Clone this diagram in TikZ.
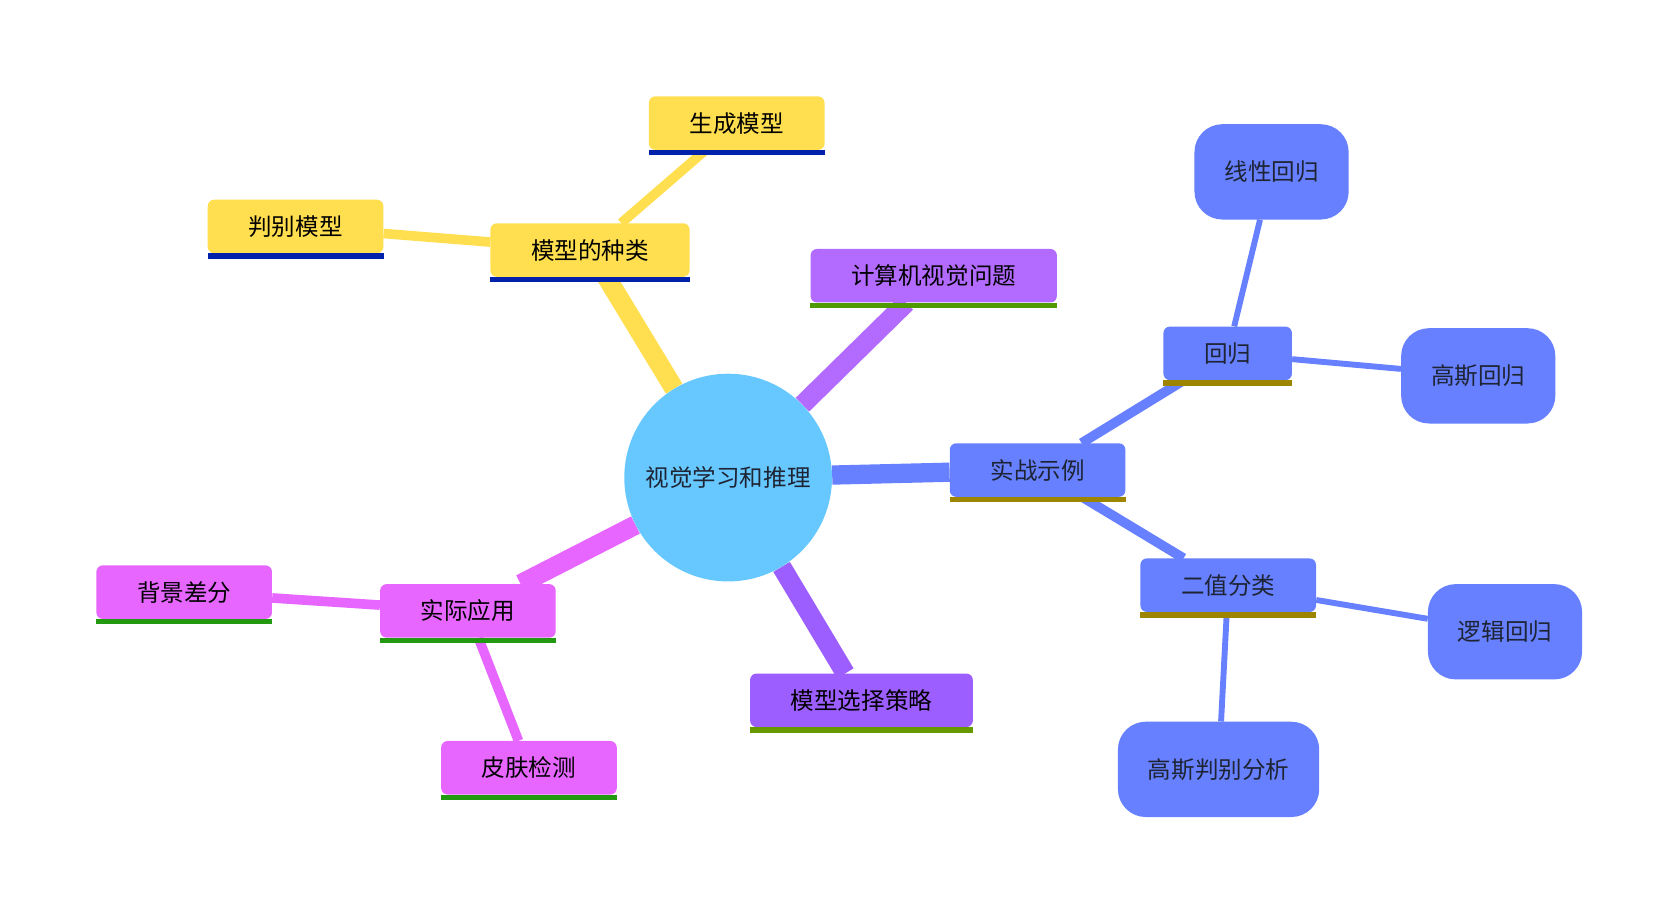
\documentclass[tikz,border=0pt]{standalone}
\usepackage{fontspec}
\setmainfont{Noto Sans CJK SC}
\usetikzlibrary{backgrounds}

\definecolor{rootblue}{HTML}{66C8FF}
\definecolor{kindyellow}{HTML}{FFDF4F}
\definecolor{kindbar}{HTML}{0022AA}
\definecolor{cvpurple}{HTML}{B36BFF}
\definecolor{cvbar}{HTML}{4F9A00}
\definecolor{stratpurple}{HTML}{9D5EFF}
\definecolor{stratbar}{HTML}{669900}
\definecolor{appmagenta}{HTML}{E666FF}
\definecolor{appbar}{HTML}{229911}
\definecolor{caseblue}{HTML}{6680FF}
\definecolor{casebar}{HTML}{9E8500}
\definecolor{darkink}{HTML}{1E2433}

\begin{document}
\begin{tikzpicture}[
  x=1pt,y=-1pt,
  root/.style={circle,minimum size=194pt,inner sep=0pt,fill=rootblue,text=darkink},
  topic/.style={rounded corners=6pt,minimum height=50pt,inner xsep=38pt,inner ysep=0pt},
  leaf/.style={rounded corners=26pt,minimum height=89pt,inner xsep=28pt,inner ysep=0pt,fill=caseblue,text=darkink},
  trunk/.style={line width=18pt},
  twig/.style={line width=9pt},
  sprig/.style={line width=5.5pt},
  every node/.style={font=\fontsize{22}{26}\selectfont}
]
  \useasboundingbox (0,0) rectangle (1568,853);

  \node[root] (root) at (680,446) {视觉学习和推理};

  \node[topic,fill=kindyellow] (kinds) at (551,233.5) {模型的种类};
  \node[topic,fill=kindyellow] (gen) at (688,115) {生成模型};
  \node[topic,fill=kindyellow] (disc) at (276,211.5) {判别模型};

  \node[topic,fill=cvpurple] (cvq) at (872,257.5) {计算机视觉问题};
  \node[topic,fill=stratpurple] (strat) at (804.5,654) {模型选择策略};

  \node[topic,fill=appmagenta] (apps) at (437,570.5) {实际应用};
  \node[topic,fill=appmagenta] (bgsub) at (172,553) {背景差分};
  \node[topic,fill=appmagenta] (skin) at (494,717) {皮肤检测};

  \node[topic,fill=caseblue,text=darkink] (cases) at (969,439) {实战示例};
  \node[topic,fill=caseblue,text=darkink] (reg) at (1146.5,330) {回归};
  \node[topic,fill=caseblue,text=darkink] (bin) at (1147,546.5) {二值分类};
  \node[leaf] (linreg) at (1187.5,160.5) {线性回归};
  \node[leaf] (gpr) at (1380.5,351) {高斯回归};
  \node[leaf] (logreg) at (1405.5,590) {逻辑回归};
  \node[leaf] (gda) at (1138,718.5) {高斯判别分析};

  \foreach \n/\c in {kinds/kindbar,gen/kindbar,disc/kindbar,cvq/cvbar,strat/stratbar,
                     apps/appbar,bgsub/appbar,skin/appbar,cases/casebar,reg/casebar,bin/casebar}
    \fill[\c] (\n.south west) rectangle ([yshift=-5pt]\n.south east);

  \begin{scope}[on background layer]
    \draw[trunk,kindyellow] (root) -- (kinds);
    \draw[twig,kindyellow] (kinds) -- (gen);
    \draw[twig,kindyellow] (kinds) -- (disc);
    \draw[trunk,cvpurple] (root) -- (cvq);
    \draw[trunk,stratpurple] (root) -- (strat);
    \draw[trunk,appmagenta] (root) -- (apps);
    \draw[twig,appmagenta] (apps) -- (bgsub);
    \draw[twig,appmagenta] (apps) -- (skin);
    \draw[trunk,caseblue] (root) -- (cases);
    \draw[twig,caseblue] (cases) -- (reg);
    \draw[twig,caseblue] (cases) -- (bin);
    \draw[sprig,caseblue] (reg) -- (linreg);
    \draw[sprig,caseblue] (reg) -- (gpr);
    \draw[sprig,caseblue] (bin) -- (logreg);
    \draw[sprig,caseblue] (bin) -- (gda);
  \end{scope}
\end{tikzpicture}
\end{document}
